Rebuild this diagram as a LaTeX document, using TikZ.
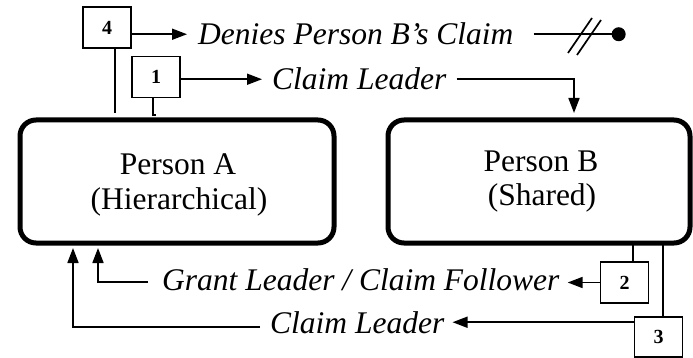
\documentclass[tikz,border=0pt]{standalone}
\usepackage{fontspec}
\setmainfont{Liberation Serif}
\usetikzlibrary{arrows.meta}
\begin{document}
\begin{tikzpicture}[x=1pt,y=-1pt,
  thinline/.style={line width=1.7pt},
  arr/.style={line width=1.7pt, -{Triangle[length=15pt,width=11pt]}},
  bigbox/.style={draw, line width=5pt, rounded corners=16pt, inner sep=0pt},
  numbox/.style={draw, line width=1.7pt, minimum width=48pt, minimum height=41pt, inner sep=0pt, font=\fontsize{20}{22}\selectfont\bfseries},
  lbl/.style={inner sep=0pt, font=\fontsize{31.5}{35}\selectfont\itshape, anchor=base west},
  ptext/.style={inner sep=0pt, font=\fontsize{31.5}{35}\selectfont, anchor=base}]
\useasboundingbox (0,0) rectangle (693,358);
% main boxes
\node[bigbox, minimum width=314pt, minimum height=123pt] (A) at (177,181.5) {};
\node[bigbox, minimum width=302pt, minimum height=123pt] (B) at (539,181.5) {};
\node[ptext] (At1) at (178,175) {Person A};
\node[ptext] (At2) at (179,210) {(Hierarchical)};
\node[ptext] (Bt1) at (541,172) {Person B};
\node[ptext] (Bt2) at (542,205) {(Shared)};
% numbered boxes
\node[numbox] (b4) at (107,27.5) {4};
\node[numbox] (b1) at (156,77) {1};
\node[numbox] (b2) at (624.5,282.5) {2};
\node[numbox, minimum height=40pt] (b3) at (658.5,337) {3};
% labels
\node[lbl] (tDen) at (198,45) {Denies Person B’s Claim};
\node[lbl] (tCL1) at (272,90) {Claim Leader};
\node[lbl] (tGL) at (162,290) {Grant Leader / Claim Follower};
\node[lbl] (tCL2) at (270,333) {Claim Leader};
% top connectors
\draw[arr] (b4.east |- tDen.west) -- ([xshift=-11pt]tDen.west);
\draw[arr] (b1.east |- tCL1.west) -- ([xshift=-10pt]tCL1.west);
\coordinate (cB) at (574,113);
\draw[arr] ([xshift=10pt]tCL1.east) -| (cB);
\draw[thinline] ([xshift=20pt]tDen.east) -- ++(85,0) coordinate (dEnd);
\fill (dEnd) circle (7pt);
\draw[thinline] (568,53) -- (592,18);
\draw[thinline] (577,55) -- (601,20);
\coordinate (a4) at (115,113);
\draw[thinline] (b4.south -| a4) -- (a4);
\coordinate (a1) at (153,115);
\draw[thinline] (b1.south -| a1) -- (a1) -- ++(2.5,0);
% bottom connectors
\coordinate (b2up) at (633,243);
\coordinate (b3up) at (663,243);
\draw[thinline] (b2.north -| b2up) -- (b2up);
\draw[thinline] (b3.north -| b3up) -- (b3up);
\path ([xshift=8pt]tGL.east) coordinate (gEnd);
\draw[arr] (b2.west) -- (gEnd |- b2.west);
\path ([xshift=8pt]tCL2.east) coordinate (c2End);
\draw[arr] (b3.west |- tCL2.east) -- (c2End |- tCL2.east);
\coordinate (g0) at (148,282);
\coordinate (gA) at (98,248);
\draw[arr] (g0) -| (gA);
\coordinate (c0) at (260,327);
\coordinate (cA) at (73,248);
\draw[arr] (c0) -| (cA);
\end{tikzpicture}
\end{document}
